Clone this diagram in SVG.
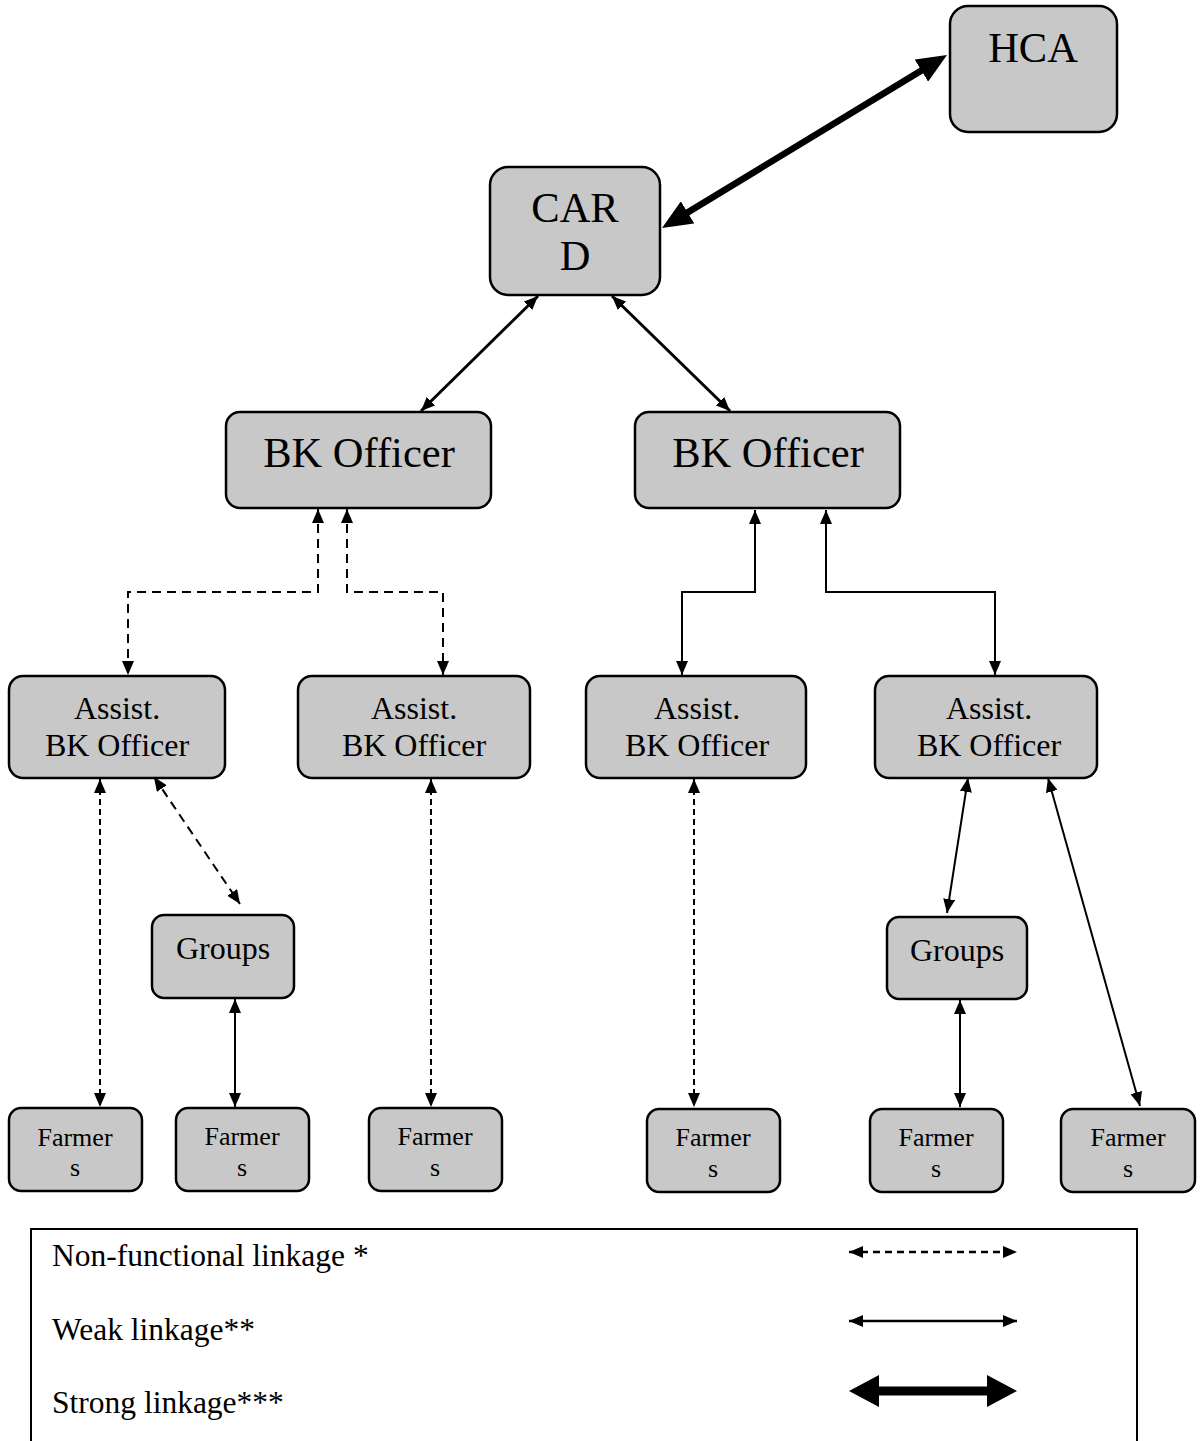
<svg xmlns="http://www.w3.org/2000/svg" width="1201" height="1441" viewBox="0 0 1201 1441">
<style>
.box{fill:#c8c8c8;stroke:#000;stroke-width:2.5}
.t{font-family:"Liberation Serif","Times New Roman",serif;fill:#000;text-anchor:middle}
.big{font-size:42.5px}
.mid{font-size:32px}
.sm{font-size:26px}
.lg{font-family:"Liberation Serif","Times New Roman",serif;font-size:31.5px;fill:#000}
.c{fill:none;stroke:#000;stroke-width:2}
.w3{stroke-width:3}
.w6{stroke-width:6.5}
.w8{stroke-width:9}
.nf{stroke-dasharray:9 6}
.nf2{stroke-dasharray:6 4}
.nf3{stroke-dasharray:7 5;stroke-width:2.5}
</style>
<defs>
<marker id="a" markerUnits="userSpaceOnUse" markerWidth="14" markerHeight="12" refX="14" refY="6" orient="auto-start-reverse"><path d="M0,0 L14,6 L0,12 z" fill="#000"/></marker>
<marker id="A" markerUnits="userSpaceOnUse" markerWidth="30" markerHeight="26" refX="10" refY="13" orient="auto-start-reverse"><path d="M0,0 L30,13 L0,26 z" fill="#000"/></marker>
<marker id="L" markerUnits="userSpaceOnUse" markerWidth="30" markerHeight="32" refX="10" refY="16" orient="auto-start-reverse"><path d="M0,0 L30,16 L0,32 z" fill="#000"/></marker>
</defs>
<rect width="1201" height="1441" fill="#fff"/>
<g id="connectors">
<line class="c w6" x1="679.1" y1="217.6" x2="929.9" y2="65.4" marker-start="url(#A)" marker-end="url(#A)"/>
<line class="c w3" x1="538" y1="296" x2="421" y2="411" marker-start="url(#a)" marker-end="url(#a)"/>
<line class="c w3" x1="612" y1="296" x2="730" y2="411" marker-start="url(#a)" marker-end="url(#a)"/>
<polyline class="c nf" points="318,509 318,592 128,592 128,675" marker-start="url(#a)" marker-end="url(#a)"/>
<polyline class="c nf" points="347,509 347,592 443,592 443,675" marker-start="url(#a)" marker-end="url(#a)"/>
<polyline class="c" points="755,510 755,592 682,592 682,675" marker-start="url(#a)" marker-end="url(#a)"/>
<polyline class="c" points="826,510 826,592 995,592 995,675" marker-start="url(#a)" marker-end="url(#a)"/>
<line class="c nf2" x1="100" y1="779" x2="100" y2="1107" marker-start="url(#a)" marker-end="url(#a)"/>
<line class="c nf" x1="154" y1="777" x2="240" y2="904" marker-start="url(#a)" marker-end="url(#a)"/>
<line class="c" x1="235" y1="999" x2="235" y2="1107" marker-start="url(#a)" marker-end="url(#a)"/>
<line class="c nf2" x1="431" y1="779" x2="431" y2="1107" marker-start="url(#a)" marker-end="url(#a)"/>
<line class="c nf2" x1="694" y1="779" x2="694" y2="1107" marker-start="url(#a)" marker-end="url(#a)"/>
<line class="c" x1="968" y1="778" x2="947" y2="913" marker-start="url(#a)" marker-end="url(#a)"/>
<line class="c" x1="960" y1="1000" x2="960" y2="1107" marker-start="url(#a)" marker-end="url(#a)"/>
<line class="c" x1="1048" y1="778" x2="1140" y2="1106" marker-start="url(#a)" marker-end="url(#a)"/>
</g>
<g id="hca"><rect class="box" x="950" y="6" width="167" height="126" rx="18"/><text class="t big" x="1033" y="62">HCA</text></g>
<g id="card"><rect class="box" x="490" y="167" width="170" height="128" rx="18"/><text class="t big" x="575" y="222">CAR</text><text class="t big" x="575" y="270">D</text></g>
<g id="bk1"><rect class="box" x="226" y="412" width="265" height="96" rx="14"/><text class="t big" x="359" y="467">BK Officer</text></g>
<g id="bk2"><rect class="box" x="635" y="412" width="265" height="96" rx="14"/><text class="t big" x="768" y="467">BK Officer</text></g>
<g id="as1"><rect class="box" x="9" y="676" width="216" height="102" rx="14"/><text class="t mid" x="117" y="719">Assist.</text><text class="t mid" x="117" y="756">BK Officer</text></g>
<g id="as2"><rect class="box" x="298" y="676" width="232" height="102" rx="14"/><text class="t mid" x="414" y="719">Assist.</text><text class="t mid" x="414" y="756">BK Officer</text></g>
<g id="as3"><rect class="box" x="586" y="676" width="220" height="102" rx="14"/><text class="t mid" x="697" y="719">Assist.</text><text class="t mid" x="697" y="756">BK Officer</text></g>
<g id="as4"><rect class="box" x="875" y="676" width="222" height="102" rx="14"/><text class="t mid" x="989" y="719">Assist.</text><text class="t mid" x="989" y="756">BK Officer</text></g>
<g id="grp1"><rect class="box" x="152" y="915" width="142" height="83" rx="12"/><text class="t mid" x="223" y="959">Groups</text></g>
<g id="grp2"><rect class="box" x="887" y="917" width="140" height="82" rx="12"/><text class="t mid" x="957" y="961">Groups</text></g>
<g id="f1"><rect class="box" x="9" y="1108" width="133" height="83" rx="12"/><text class="t sm" x="75" y="1146">Farmer</text><text class="t sm" x="75" y="1176">s</text></g>
<g id="f2"><rect class="box" x="176" y="1108" width="133" height="83" rx="12"/><text class="t sm" x="242" y="1145">Farmer</text><text class="t sm" x="242" y="1176">s</text></g>
<g id="f3"><rect class="box" x="369" y="1108" width="133" height="83" rx="12"/><text class="t sm" x="435" y="1145">Farmer</text><text class="t sm" x="435" y="1176">s</text></g>
<g id="f4"><rect class="box" x="647" y="1109" width="133" height="83" rx="12"/><text class="t sm" x="713" y="1146">Farmer</text><text class="t sm" x="713" y="1177">s</text></g>
<g id="f5"><rect class="box" x="870" y="1109" width="133" height="83" rx="12"/><text class="t sm" x="936" y="1146">Farmer</text><text class="t sm" x="936" y="1177">s</text></g>
<g id="f6"><rect class="box" x="1061" y="1109" width="134" height="83" rx="12"/><text class="t sm" x="1128" y="1146">Farmer</text><text class="t sm" x="1128" y="1177">s</text></g>
<g id="legend">
<polyline points="31,1460 31,1229 1137,1229 1137,1460" fill="none" stroke="#000" stroke-width="2"/>
<text class="lg" x="52" y="1266">Non-functional linkage *</text>
<text class="lg" x="52" y="1340">Weak linkage**</text>
<text class="lg" x="52" y="1413">Strong linkage***</text>
<line class="c nf3" x1="849" y1="1252" x2="1017" y2="1252" marker-start="url(#a)" marker-end="url(#a)"/>
<line class="c" x1="849" y1="1321" x2="1017" y2="1321" style="stroke-width:2.5" marker-start="url(#a)" marker-end="url(#a)"/>
<line class="c w8" x1="869" y1="1391" x2="997" y2="1391" marker-start="url(#L)" marker-end="url(#L)"/>
</g>
</svg>
